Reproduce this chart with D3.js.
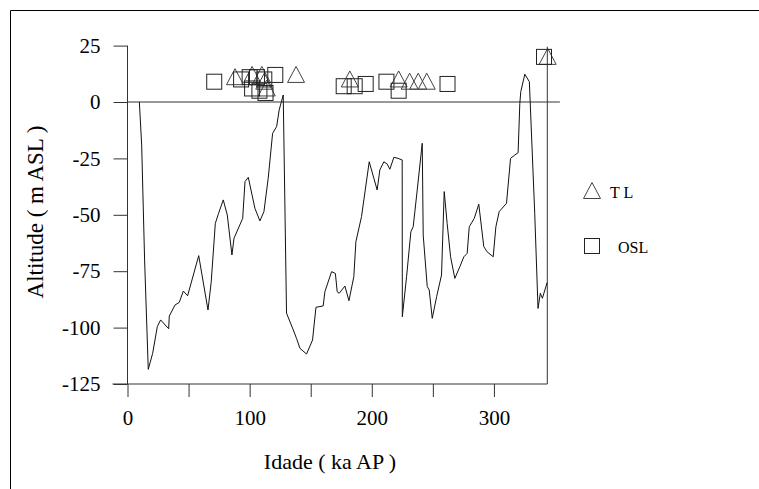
<!DOCTYPE html>
<html>
<head>
<meta charset="utf-8">
<script src="https://cdn.jsdelivr.net/npm/d3@7"></script>
<style>
  body { margin: 0; background: #fff; }
  svg text { font-family: 'Liberation Serif', 'Times New Roman', serif !important; fill: #000; }
</style>
</head>
<body>
<div class="graph"></div>
<script>
// sea level curve (age ka, altitude m)
const curveAge = [9.7, 11.6, 14, 17, 20.6, 24.4, 27.1, 33.7, 34.2, 38.9, 42.4, 45.7, 49.2, 58.3, 65.9, 68.5, 71.9, 74.6, 78.4, 81.7, 85.5, 87.2, 94.3, 96.2, 98.9, 104.3, 108.4, 111.7, 115.2, 118.8, 122.1, 124.2, 127.5, 130.2, 135.7, 138.4, 141.2, 146.6, 151.5, 154.3, 160.2, 161.6, 167.1, 170.2, 171.7, 173.3, 178, 181.3, 185.3, 187, 191.6, 197.9, 204.4, 206.6, 209.9, 212.6, 214.8, 218.1, 221.6, 224.9, 225, 228.5, 232, 233.9, 237.2, 241.3, 242.1, 245.4, 247, 249.5, 253.1, 257.1, 259.3, 261.7, 264.5, 268, 272.1, 275.4, 278.1, 279.8, 283.9, 287.6, 291.7, 294.4, 299.4, 301.6, 304.3, 310.3, 313.6, 317.1, 319.8, 321.2, 322, 325.3, 329, 333.4, 336.1, 338, 339.7, 343.5];
const curveAlt = [0, -19, -70, -118.5, -111.4, -99.6, -96.6, -100.5, -94.9, -90, -88.8, -83.8, -85.9, -68.1, -92.2, -80, -53.8, -49.3, -43.4, -50.1, -67.8, -60.4, -51.6, -35.3, -33.4, -47.1, -52.7, -48.6, -33.8, -13.9, -10.9, -3.5, 3.1, -93.6, -101, -104.8, -109.2, -111.7, -105.5, -91, -90.4, -84.1, -75.2, -76, -84.1, -84.8, -81.6, -88.1, -77.4, -61.9, -50.8, -26.5, -39, -30.1, -26.5, -27.5, -29.8, -24.5, -25, -25.7, -95.2, -77.4, -57.5, -55.3, -39, -18.3, -59, -81.8, -83.3, -95.9, -86.3, -76.7, -39.7, -53.8, -68.6, -78.2, -73, -68.6, -67.1, -55.3, -51.6, -45.3, -64.1, -66.4, -68.6, -55.3, -48.6, -44.9, -25, -23.5, -22.5, -0.6, 4.6, 12.3, 9, -49.3, -91.5, -84.8, -87, -80.1];

// dated samples
const tlAge = [88, 102, 110, 112, 114, 138, 182, 222, 231, 238, 245, 344];
const tlAlt = [11, 12, 12, 9, 6, 12, 10, 10, 9, 9, 9, 20];
const oslAge = [71, 93, 100, 106, 112, 121, 102, 108, 113, 177, 186, 195, 212, 222, 262, 341];
const oslAlt = [9, 10, 11, 11, 10, 12, 6, 5, 4, 7, 7, 8, 9, 5, 8, 20];

const xTicks = [0, 50, 100, 150, 200, 250, 300];
const xLabels = [0, 100, 200, 300];
const yTicks = [25, 0, -25, -50, -75, -100, -125];

const W = 759, H = 489;
const svg = d3.select('.graph').append('svg')
    .attr('width', W)
    .attr('height', H);

// frame (only top and left edges visible)
svg.append('line').attr('x1', 10.5).attr('x2', W).attr('y1', 10.5).attr('y2', 10.5).attr('stroke', '#000');
svg.append('line').attr('x1', 10.5).attr('x2', 10.5).attr('y1', 10.5).attr('y2', H).attr('stroke', '#000');

const xScale = d3.scaleLinear().domain([0, 343.7]).range([127.5, 547.3]);
const yScale = d3.scaleLinear().domain([-125, 25]).range([384, 45.6]);

const axisColor = '#333';

// x axis
const xAxis = d3.axisBottom(xScale).tickValues(xTicks).tickSize(13).tickSizeOuter(0)
    .tickFormat(d => xLabels.includes(d) ? String(d) : '');
const gx = svg.append('g').attr('transform', `translate(0,${yScale(-125)})`).call(xAxis);
gx.select('.domain').remove();
gx.selectAll('.tick line').attr('stroke', axisColor);
gx.selectAll('.tick text').attr('y', 26).style('font-size', '21px');
gx.append('line').attr('x1', xScale(0) - 15).attr('x2', xScale(343.7))
    .attr('stroke', axisColor);

// y axis
const yAxis = d3.axisLeft(yScale).tickValues(yTicks).tickSize(14).tickSizeOuter(0)
    .tickFormat(d => String(d));
const gy = svg.append('g').attr('transform', `translate(${xScale(0)},0)`).call(yAxis);
gy.select('.domain').remove();
gy.selectAll('.tick line').attr('stroke', axisColor);
gy.selectAll('.tick text').attr('x', -27).style('font-size', '21px');
gy.append('line').attr('y1', yScale(25)).attr('y2', yScale(-125)).attr('stroke', axisColor);

// zero line and right edge
svg.append('line').attr('x1', xScale(0)).attr('x2', xScale(354))
    .attr('y1', yScale(0)).attr('y2', yScale(0)).attr('stroke', axisColor);
svg.append('line').attr('x1', xScale(343.7)).attr('x2', xScale(343.7))
    .attr('y1', yScale(24.5)).attr('y2', yScale(-125)).attr('stroke', axisColor);

// curve
const curve = curveAge.map((a, i) => [a, curveAlt[i]]);
svg.append('path')
    .datum(curve)
    .attr('fill', 'none')
    .attr('stroke', '#111')
    .attr('stroke-width', 1)
    .attr('d', d3.line().x(d => xScale(d[0])).y(d => yScale(d[1])));

// markers
const tri = 'M0,-8.5L8.5,7.5L-8.5,7.5Z';
svg.selectAll('.tl')
    .data(tlAge.map((a, i) => [a, tlAlt[i]]))
    .enter().append('path')
    .attr('class', 'tl')
    .attr('d', tri)
    .attr('transform', d => `translate(${xScale(d[0])},${yScale(d[1])})`)
    .attr('fill', 'none').attr('stroke', '#444');
svg.selectAll('.osl')
    .data(oslAge.map((a, i) => [a, oslAlt[i]]))
    .enter().append('rect')
    .attr('class', 'osl')
    .attr('x', d => xScale(d[0]) - 7.5).attr('y', d => yScale(d[1]) - 7.5)
    .attr('width', 15).attr('height', 15)
    .attr('fill', 'none').attr('stroke', '#222');

// axis titles
svg.append('text').attr('x', 330).attr('y', 469).attr('text-anchor', 'middle')
    .style('font-size', '22px').text('Idade ( ka AP )');
svg.append('text').attr('transform', 'translate(43,212) rotate(-90)').attr('text-anchor', 'middle')
    .style('font-size', '23px').text('Altitude ( m ASL )');

// legend
svg.append('path').attr('d', tri).attr('transform', 'translate(592,191)')
    .attr('fill', 'none').attr('stroke', '#444');
svg.append('text').attr('x', 610).attr('y', 198).style('font-size', '16px').text('T L');
svg.append('rect').attr('x', 584.5).attr('y', 238.5).attr('width', 15).attr('height', 15)
    .attr('fill', 'none').attr('stroke', '#222');
svg.append('text').attr('x', 618).attr('y', 253).style('font-size', '16px').text('OSL');
</script>
</body>
</html>
